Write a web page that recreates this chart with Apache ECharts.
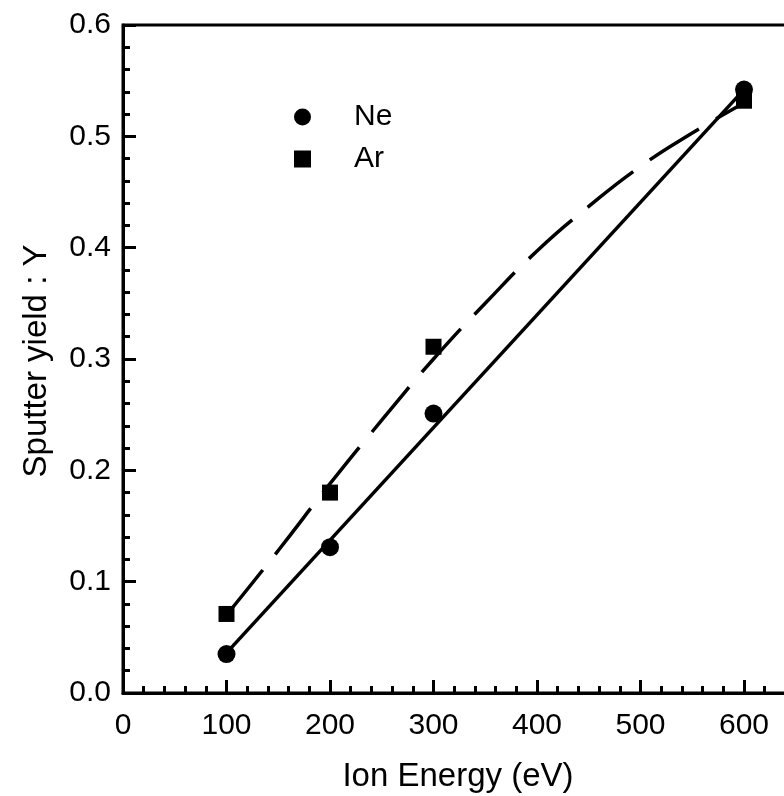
<!DOCTYPE html>
<html>
<head>
<meta charset="utf-8">
<script src="https://cdn.jsdelivr.net/npm/echarts@6/dist/echarts.min.js"></script>
<style>html,body{margin:0;padding:0;background:#fff;}#c{width:784px;height:796px;}</style>
</head>
<body>
<div id="c"></div>
<script>
// Measured data
const energies = [100, 200, 300, 600];
const neYield = [0.035, 0.131, 0.251, 0.542];
const arYield = [0.071, 0.180, 0.311, 0.532];
// Fit curves
const neFitX = [100, 600];
const neFitY = [0.036, 0.542];
const arFitX = [100, 150, 200, 250, 300, 350, 400, 450, 500, 550, 600];
const arFitY = [0.070, 0.128, 0.188, 0.245, 0.300, 0.350, 0.397, 0.437, 0.473, 0.503, 0.530];
const xTitle = 'Ion Energy (eV)';
const yTitle = 'Sputter yield : Y';

const font = 'Liberation Sans, Arial, sans-serif';
const pair = (xs, ys) => xs.map((x, i) => [x, ys[i]]);

const chart = echarts.init(document.getElementById('c'));
chart.setOption({
  animation: false,
  backgroundColor: '#fff',
  grid: { left: 123, top: 25, bottom: 103, right: -63.5, outerBoundsMode: 'none', containLabel: false, show: true, borderColor: '#000', borderWidth: 3, backgroundColor: 'transparent' },
  xAxis: {
    type: 'value', min: 0, max: 700, interval: 100,
    axisLine: { lineStyle: { color: '#000', width: 3 } },
    axisTick: { inside: true, length: 13, lineStyle: { color: '#000', width: 3 } },
    minorTick: { show: true, splitNumber: 5, length: 7, lineStyle: { color: '#000', width: 3 } },
    splitLine: { show: false },
    axisLabel: { color: '#000', fontSize: 30, fontFamily: font, margin: 18 }
  },
  yAxis: {
    type: 'value', min: 0, max: 0.6, interval: 0.1,
    axisLine: { show: true, lineStyle: { color: '#000', width: 3 } },
    axisTick: { show: true, inside: true, length: 13, lineStyle: { color: '#000', width: 3 } },
    minorTick: { show: true, splitNumber: 5, length: 7, lineStyle: { color: '#000', width: 3 } },
    splitLine: { show: false },
    axisLabel: { color: '#000', fontSize: 30, fontFamily: font, margin: 12, formatter: v => v.toFixed(1) }
  },
  legend: {
    orient: 'vertical', left: 289, top: 97, itemWidth: 17, itemHeight: 17, itemGap: 12,
    data: [{ name: 'Ne', icon: 'circle' }, { name: 'Ar', icon: 'rect' }],
    itemStyle: { opacity: 1 },
    textStyle: { color: '#000', fontSize: 30, fontFamily: font, lineHeight: 30, padding: [0, 0, 0, 38] }
  },
  graphic: [
    { type: 'text', x: 458, y: 777, style: { text: xTitle, fill: '#000', font: '33px ' + font, textAlign: 'center', textVerticalAlign: 'middle' } },
    { type: 'text', x: 37, y: 361, rotation: Math.PI / 2, style: { text: yTitle, fill: '#000', font: '33px ' + font, textAlign: 'center', textVerticalAlign: 'middle' } }
  ],
  series: [
    { name: 'Ne fit', type: 'line', data: pair(neFitX, neFitY), showSymbol: false, symbol: 'none', lineStyle: { color: '#000', width: 3.5 }, z: 2 },
    { name: 'Ar fit', type: 'line', smooth: true, data: pair(arFitX, arFitY), showSymbol: false, symbol: 'none', lineStyle: { color: '#000', width: 3.5, type: [58, 20], cap: 'butt' }, z: 2 },
    { name: 'Ne', type: 'scatter', data: pair(energies, neYield), symbol: 'circle', symbolSize: 18, itemStyle: { color: '#000', opacity: 1 }, z: 3 },
    { name: 'Ar', type: 'scatter', data: pair(energies, arYield), symbol: 'rect', symbolSize: 16, itemStyle: { color: '#000', opacity: 1 }, z: 3 }
  ]
});
</script>
</body>
</html>
